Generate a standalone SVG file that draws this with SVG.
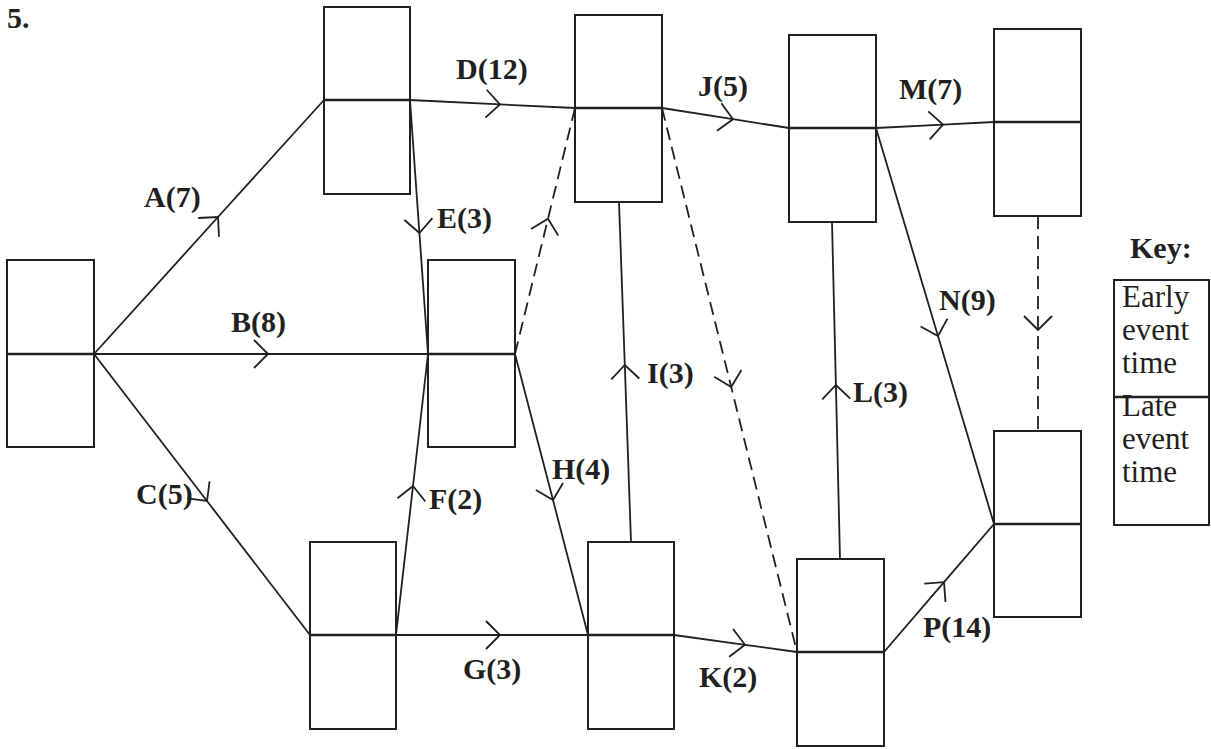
<svg xmlns="http://www.w3.org/2000/svg" width="1211" height="749" viewBox="0 0 1211 749">
<style>
.box{fill:none;stroke:#231f20;stroke-width:2}
.mid{stroke:#231f20;stroke-width:2.5}
.e{fill:none;stroke:#231f20;stroke-width:1.8;marker-mid:url(#chev)}
.d{stroke-dasharray:13 7}
.lbl{font-family:"Liberation Serif","Times New Roman",serif;font-weight:bold;font-size:30px;fill:#231f20}
.key{font-family:"Liberation Serif","Times New Roman",serif;font-size:31px;fill:#231f20}
</style>
<defs>
<marker id="chev" markerUnits="userSpaceOnUse" viewBox="-16 -16 20 32" refX="0" refY="0" markerWidth="20" markerHeight="32" orient="auto" overflow="visible">
<path d="M-14,-14 L0,0 L-14,14" fill="none" stroke="#231f20" stroke-width="1.8" stroke-dasharray="none"/>
</marker>
</defs>
<rect width="1211" height="749" fill="#fff"/>
<text class="lbl" x="7" y="28">5.</text>

<g id="connectors">
<path id="eA" class="e" d="M94,354 L218,217 L324,100"/>
<path id="eB" class="e" d="M94,354 L268,354 L428,354"/>
<path id="eC" class="e" d="M94,354 L207,501 L310,635"/>
<path id="eD" class="e" d="M410,100 L500,104.4 L575,108"/>
<path id="eE" class="e" d="M410,100 L419.4,233 L428,354"/>
<path id="eF" class="e" d="M396,635 L413,486 L428,354"/>
<path id="eX1" class="e d" d="M515,354 L548,218.7 L575,108"/>
<path id="eH" class="e" d="M515,354 L553,500 L588,635"/>
<path id="eI" class="e" d="M631,542 L624.8,365 L619,202"/>
<path id="eX2" class="e d" d="M662,108 L731.2,387 L797,652"/>
<path id="eJ" class="e" d="M662,108 L733,119.2 L789,128"/>
<path id="eG" class="e" d="M396,635 L500,635 L588,635"/>
<path id="eK" class="e" d="M674,635 L745,644.8 L797,652"/>
<path id="eL" class="e" d="M840,559 L835.9,385 L832,222"/>
<path id="eM" class="e" d="M876,128 L943,124.6 L994,122"/>
<path id="eN" class="e" d="M876,128 L938,336 L994,524"/>
<path id="eX3" class="e d" d="M1038,216 L1038,330 L1038,431"/>
<path id="eP" class="e" d="M884,652 L944,582.2 L994,524"/>
</g>

<g id="labels">
<text class="lbl" x="144" y="207">A(7)</text>
<text class="lbl" x="231" y="332">B(8)</text>
<text class="lbl" x="136" y="504">C(5)</text>
<text class="lbl" x="456" y="79">D(12)</text>
<text class="lbl" x="437" y="228">E(3)</text>
<text class="lbl" x="429" y="509">F(2)</text>
<text class="lbl" x="463" y="679">G(3)</text>
<text class="lbl" x="552" y="479">H(4)</text>
<text class="lbl" x="647" y="383">I(3)</text>
<text class="lbl" x="698" y="96">J(5)</text>
<text class="lbl" x="699" y="687">K(2)</text>
<text class="lbl" x="853" y="402">L(3)</text>
<text class="lbl" x="899" y="99">M(7)</text>
<text class="lbl" x="939" y="310">N(9)</text>
<text class="lbl" x="923" y="637">P(14)</text>
</g>

<g id="n0"><rect class="box" x="7" y="260" width="87" height="187"/><line class="mid" x1="7" y1="354" x2="94" y2="354"/></g>
<g id="n1"><rect class="box" x="324" y="7" width="86" height="187"/><line class="mid" x1="324" y1="100" x2="410" y2="100"/></g>
<g id="n2"><rect class="box" x="428" y="260" width="87" height="187"/><line class="mid" x1="428" y1="354" x2="515" y2="354"/></g>
<g id="n3"><rect class="box" x="575" y="15" width="87" height="187"/><line class="mid" x1="575" y1="108" x2="662" y2="108"/></g>
<g id="n4"><rect class="box" x="310" y="542" width="86" height="187"/><line class="mid" x1="310" y1="635" x2="396" y2="635"/></g>
<g id="n5"><rect class="box" x="789" y="35" width="87" height="187"/><line class="mid" x1="789" y1="128" x2="876" y2="128"/></g>
<g id="n6"><rect class="box" x="588" y="542" width="86" height="187"/><line class="mid" x1="588" y1="635" x2="674" y2="635"/></g>
<g id="n7"><rect class="box" x="994" y="29" width="87" height="187"/><line class="mid" x1="994" y1="122" x2="1081" y2="122"/></g>
<g id="n8"><rect class="box" x="797" y="559" width="87" height="187"/><line class="mid" x1="797" y1="652" x2="884" y2="652"/></g>
<g id="n9"><rect class="box" x="994" y="431" width="87" height="186"/><line class="mid" x1="994" y1="524" x2="1081" y2="524"/></g>

<g id="key">
<text class="lbl" x="1130" y="258">Key:</text>
<rect class="box" x="1114" y="280" width="95" height="245"/>
<line class="mid" x1="1114" y1="397" x2="1209" y2="397"/>
<text class="key" x="1122" y="307">Early</text>
<text class="key" x="1122" y="340">event</text>
<text class="key" x="1122" y="373">time</text>
<text class="key" x="1122" y="416">Late</text>
<text class="key" x="1122" y="449">event</text>
<text class="key" x="1122" y="482">time</text>
</g>
</svg>
